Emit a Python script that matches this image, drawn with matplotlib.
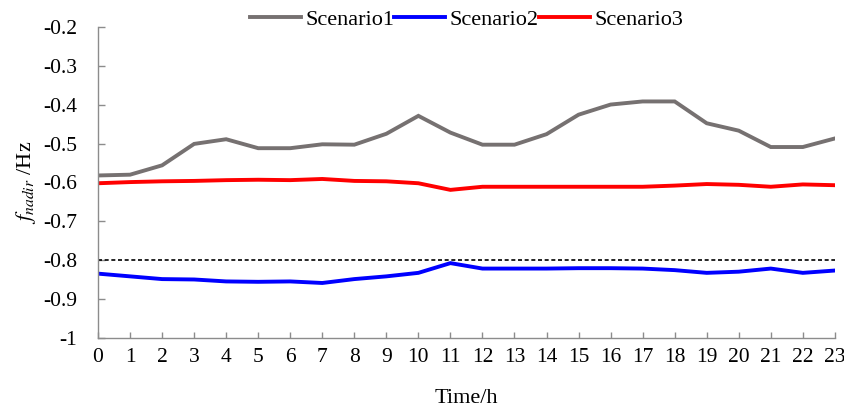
import matplotlib
matplotlib.use("Agg")
import matplotlib.pyplot as plt

hours = list(range(24))
hour_labels = [str(h) for h in hours]

scenario1 = [-0.582, -0.580, -0.556, -0.501, -0.489, -0.512, -0.512, -0.502,
             -0.503, -0.475, -0.429, -0.472, -0.503, -0.503, -0.476, -0.426,
             -0.400, -0.392, -0.392, -0.448, -0.467, -0.509, -0.509, -0.487]
scenario2 = [-0.834, -0.841, -0.848, -0.849, -0.854, -0.855, -0.854, -0.858,
             -0.848, -0.841, -0.832, -0.807, -0.821, -0.821, -0.821, -0.820,
             -0.820, -0.821, -0.825, -0.832, -0.829, -0.821, -0.832, -0.826]
scenario3 = [-0.602, -0.599, -0.597, -0.596, -0.594, -0.593, -0.594, -0.591,
             -0.596, -0.597, -0.602, -0.619, -0.611, -0.611, -0.611, -0.611,
             -0.611, -0.611, -0.608, -0.604, -0.606, -0.611, -0.605, -0.607]
threshold = -0.8

series_names = ["Scenario1", "Scenario2", "Scenario3"]
series_colors = ["#767171", "#0000FF", "#FF0000"]

y_ticks = [-0.2, -0.3, -0.4, -0.5, -0.6, -0.7, -0.8, -0.9, -1.0]
y_tick_labels = ["-0.2", "-0.3", "-0.4", "-0.5", "-0.6", "-0.7", "-0.8", "-0.9", "-1"]

plt.rcParams["font.family"] = ["Liberation Serif", "DejaVu Serif"]
plt.rcParams["mathtext.fontset"] = "stix"

fig = plt.figure(figsize=(8.45, 4.15), dpi=100)
ax = fig.add_axes([0.116, 0.1848, 0.872, 0.751])

lines = []
for values, name, color in zip([scenario1, scenario2, scenario3], series_names, series_colors):
    ln, = ax.plot(hours, values, color=color, lw=2.8, label=name, solid_joinstyle="miter")
    lines.append(ln)

ax.axhline(threshold, color="black", lw=1.2, dashes=(2.4, 1.6))

ax.set_xlim(0, 23)
ax.set_ylim(-1.0, -0.2)
ax.set_xticks(hours)
ax.set_xticklabels(hour_labels)
ax.set_yticks(y_ticks)
ax.set_yticklabels(y_tick_labels)

spine_color = "#8c8c8c"
for side in ["top", "right"]:
    ax.spines[side].set_visible(False)
for side in ["left", "bottom"]:
    ax.spines[side].set_color(spine_color)
    ax.spines[side].set_linewidth(1.0)

ax.tick_params(axis="both", direction="in", color=spine_color, labelsize=15.5, width=1.0)
ax.tick_params(axis="x", length=4, pad=7)
ax.tick_params(axis="y", length=5, pad=15)

ax.set_xlabel("Time/h", fontsize=16, labelpad=16)
ax.set_ylabel(r"$f_{nadir}$ /Hz", fontsize=16, labelpad=4)

fig.legend(handles=lines, labels=series_names, loc="center",
           bbox_to_anchor=(0.552, 0.953), ncol=3, frameon=False,
           fontsize=16, handlelength=2.3, handletextpad=0.2,
           columnspacing=0.0, borderaxespad=0)

fig.savefig("out.png", dpi=100)
